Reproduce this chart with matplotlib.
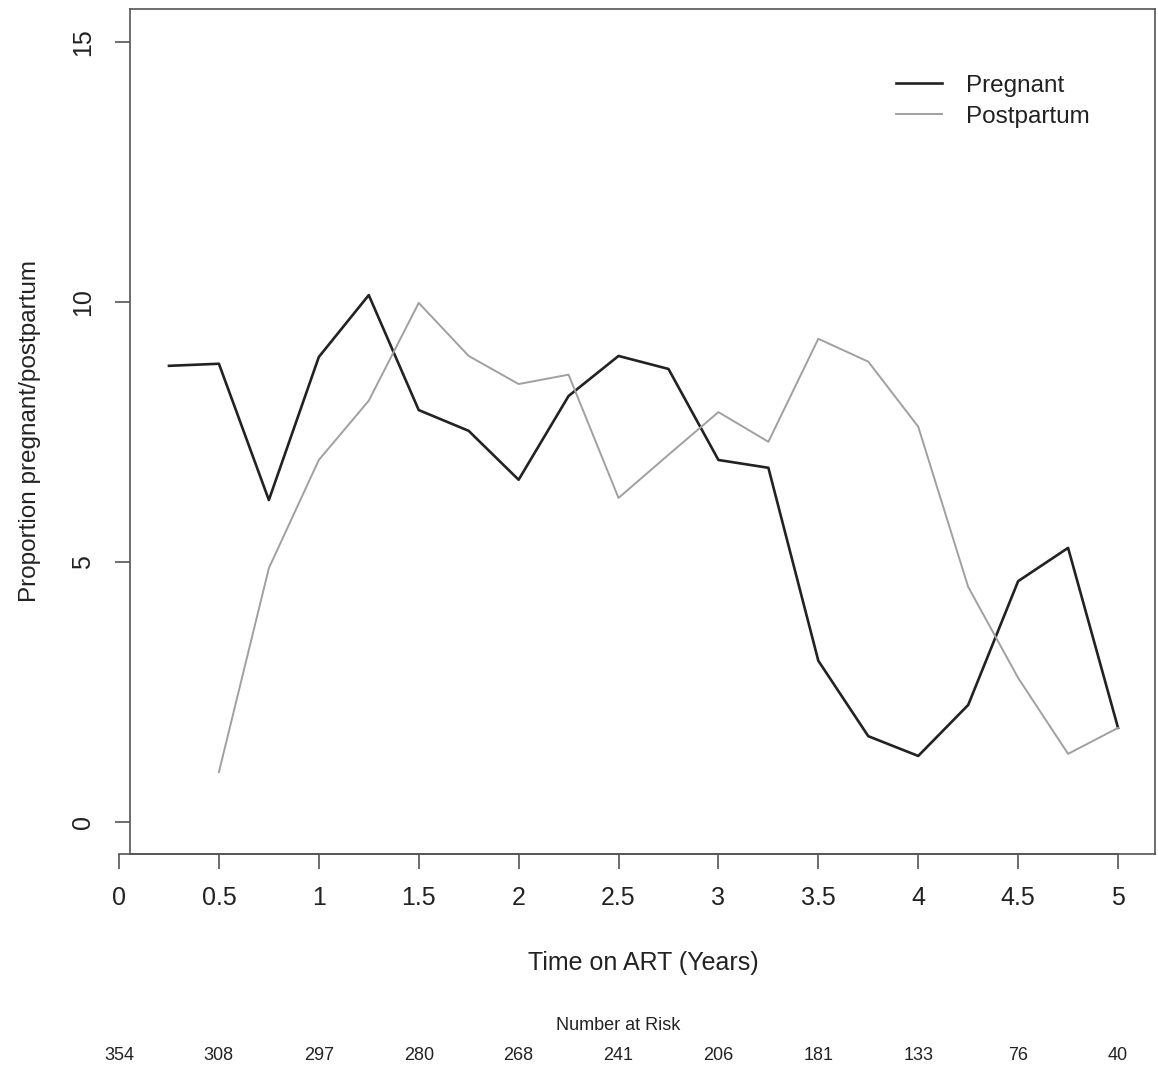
import matplotlib.pyplot as plt
import matplotlib.transforms as mtransforms

plt.rcParams['font.family'] = ['Liberation Sans', 'DejaVu Sans']

# data
years = [0.25, 0.5, 0.75, 1, 1.25, 1.5, 1.75, 2, 2.25, 2.5, 2.75,
         3, 3.25, 3.5, 3.75, 4, 4.25, 4.5, 4.75, 5]
pregnant = [8.77, 8.81, 6.19, 8.94, 10.13, 7.92, 7.52, 6.58, 8.19, 8.96, 8.71,
            6.96, 6.81, 3.10, 1.65, 1.27, 2.25, 4.63, 5.27, 1.81]
post_years = years[1:]
postpartum = [0.96, 4.88, 6.96, 8.10, 9.98, 8.96, 8.42, 8.60, 6.23, 7.06,
              7.88, 7.31, 9.29, 8.85, 7.60, 4.52, 2.77, 1.31, 1.81]
risk_years = [0, 0.5, 1, 1.5, 2, 2.5, 3, 3.5, 4, 4.5, 5]
at_risk = [354, 308, 297, 280, 268, 241, 206, 181, 133, 76, 40]

W, H = 1158, 1068
fig = plt.figure(figsize=(W / 100, H / 100), dpi=100)

# main plotting box
ax = fig.add_axes([130 / W, 1 - 854 / H, (1155 - 130) / W, (854 - 9) / H])
ax.set_xlim(0.055, 5.185)
ax.set_ylim(-0.615, 15.63)
for s in ax.spines.values():
    s.set_color('#555555')
    s.set_linewidth(1.2)
ax.set_xticks([])
ax.set_yticks([0, 5, 10, 15])
ax.set_yticklabels(['0', '5', '10', '15'], rotation=90, va='center', fontsize=18, color='#222222')
ax.tick_params(axis='y', length=11, width=1.2, color='#555555', pad=14)

ax.plot(years, pregnant, color='#222222', lw=1.9, label='Pregnant')
ax.plot(post_years, postpartum, color='#a0a0a0', lw=1.4, label='Postpartum')

leg = ax.legend(loc='upper right', bbox_to_anchor=(0.958, 0.948), frameon=False,
                fontsize=17.5, handlelength=1.9, handletextpad=1.0, labelspacing=0.36)
for t in leg.get_texts():
    t.set_color('#222222')

ax.set_ylabel('Proportion pregnant/postpartum', fontsize=17.5, color='#222222', labelpad=22)

# detached x axis in R style
ax2 = fig.add_axes([119 / W, 1 - 854 / H, (1118 - 119) / W, 0.01])
ax2.set_xlim(0, 5)
ax2.patch.set_visible(False)
for k in ['top', 'left', 'right']:
    ax2.spines[k].set_visible(False)
ax2.spines['bottom'].set_color('#555555')
ax2.spines['bottom'].set_linewidth(1.2)
ax2.set_yticks([])
ax2.set_xticks(risk_years)
ax2.set_xticklabels(['0', '0.5', '1', '1.5', '2', '2.5', '3', '3.5', '4', '4.5', '5'],
                    fontsize=18, color='#222222')
ax2.tick_params(axis='x', length=11, width=1.2, color='#555555', pad=12)

fig.text(643 / W, 1 - 963 / H, 'Time on ART (Years)', ha='center', va='center',
         fontsize=18, color='#222222')

fig.text(618 / W, 1 - 1025 / H, 'Number at Risk', ha='center', va='center',
         fontsize=13, color='#222222',
         family=['Liberation Sans Narrow', 'Liberation Sans', 'DejaVu Sans'])
tr = mtransforms.blended_transform_factory(ax2.transData, fig.transFigure)
for xv, n in zip(risk_years, at_risk):
    ax2.text(xv, 1 - 1055 / H, str(n), transform=tr, ha='center', va='center',
             fontsize=13, color='#222222',
             family=['Liberation Sans Narrow', 'Liberation Sans', 'DejaVu Sans'])

fig.savefig('out.png', dpi=100)
plt.close()
